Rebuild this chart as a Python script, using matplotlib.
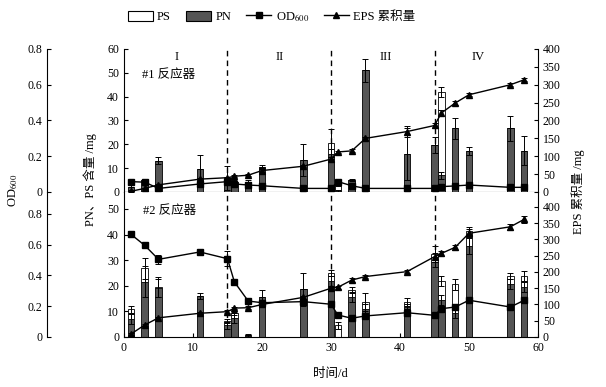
import matplotlib
matplotlib.use('Agg')
import matplotlib.pyplot as plt
from matplotlib.lines import Line2D
from matplotlib.patches import Patch
import numpy as np

plt.rcParams['font.family'] = ['Liberation Serif', 'Noto Sans CJK SC']
plt.rcParams['mathtext.fontset'] = 'stix'
plt.rcParams['font.size'] = 8.5

# sampling days (same for both reactors)
days = [1, 3, 5, 11, 15, 16, 18, 20, 26, 30, 31, 33, 35, 41, 45, 46, 48, 50, 56, 58]
phase_days = [15, 30, 45]
phase_names = ['I', 'II', 'III', 'IV']
phase_pos = [7.6, 22.6, 38, 51.3]

# reactor #1
pn1 = [2, 5, 13.2, 9.5, 6, 4, 4, 10.6, 13.4, 16, 0.5, 5, 51, 16, 19.7, 7, 26.7, 17.2, 26.7, 17.4]
pn1_err = [1, 0.5, 1.3, 6, 5, 1, 1, 0.7, 6.6, 2, 0.3, 0.5, 5, 11, 3.3, 1.5, 4.3, 1.6, 5.3, 6]
ps1 = [0, 0, 0, 0, 0, 0, 0, 0, 0, 4.5, 3, 0, 0, 0, 0, 35, 0, 0, 0, 0]
ps1_err = [0, 0, 0, 0, 0, 0, 0, 0, 0, 6, 1, 0, 0, 0, 0, 2, 0, 0, 0, 0]
od1 = [0.058, 0.055, 0.02, 0.045, 0.058, 0.045, 0.039, 0.035, 0.02, 0.02,
       0.058, 0.035, 0.02, 0.02, 0.02, 0.03, 0.034, 0.039, 0.026, 0.026]
od1_err = [0.01] * 20
eps1 = [2, 10, 20, 36, 40, 44, 47, 60, 72, 92, 112, 115, 150, 169, 186, 221, 249, 272, 300, 314]
eps1_err = [1, 1, 2, 2, 3, 3, 3, 3, 3, 5, 4, 4, 4, 16, 6, 8, 6, 4, 4, 4]

# reactor #2
pn2 = [7, 21.6, 19, 16, 4.5, 7.3, 0.3, 15.5, 18.6, 22, 0, 15.7, 11, 11.8, 29.3, 14.5, 9.5, 35.5, 20.8, 19.5]
pn2_err = [2, 6, 3.5, 1.3, 1.5, 2, 0.3, 2.9, 6.5, 2, 0, 2, 2, 1, 2, 2, 2, 3, 2, 2]
ps2 = [3.8, 5.2, 0.7, 0, 1.7, 1.9, 0.3, 0, 0, 3, 4.5, 2.7, 2.8, 2, 3, 7.4, 11, 6, 3, 4.3]
ps2_err = [1.3, 4.2, 3.9, 0, 0.7, 0.7, 0.5, 0, 0, 1, 1.3, 1.2, 3.5, 1.6, 3.2, 2.1, 2.3, 1.6, 1.1, 2.1]
od2 = [0.668, 0.596, 0.505, 0.553, 0.509, 0.358, 0.234, 0.223, 0.23, 0.213,
       0.143, 0.122, 0.137, 0.158, 0.141, 0.184, 0.195, 0.239, 0.195, 0.239]
od2_err = [0.02, 0.01, 0.03, 0.02, 0.05, 0.01, 0.02, 0.02, 0.02, 0.02,
           0.01, 0.01, 0.02, 0.01, 0.01, 0.02, 0.02, 0.02, 0.02, 0.02]
eps2 = [9, 37, 59, 73, 78, 89, 90, 100, 122, 150, 153, 175, 186, 201, 247, 257, 276, 319, 339, 362]
eps2_err = [2, 3, 4, 3, 4, 4, 4, 4, 5, 5, 5, 5, 5, 5, 10, 8, 8, 12, 10, 10]

pn_color = '#555555'


def draw_panel(ax, pn, pn_err, ps, ps_err, od, od_err, eps, eps_err,
               pn_lim, pn_ticks, od_lim, eps_lim):
    for d in phase_days:
        ax.axvline(d, color='black', ls=(0, (4, 3)), lw=1, zorder=1)
    pn = np.array(pn)
    ps = np.array(ps)
    ax.bar(days, pn, width=0.95, color=pn_color, edgecolor='black', lw=0.6, zorder=2)
    ax.bar(days, ps, bottom=pn, width=0.95, color='white', edgecolor='black', lw=0.6, zorder=2)
    ax.errorbar(days, pn, yerr=pn_err, fmt='none', ecolor='black', elinewidth=0.7,
                capsize=2.5, capthick=0.7, zorder=3)
    m = ps > 0
    ax.errorbar(np.array(days)[m], (pn + ps)[m], yerr=np.array(ps_err)[m], fmt='none',
                ecolor='black', elinewidth=0.7, capsize=2.5, capthick=0.7, zorder=3)
    ax.set_xlim(0, 60)
    ax.set_ylim(*pn_lim)
    ax.set_yticks(pn_ticks)
    ax.tick_params(axis='y', direction='in', length=3, labelsize=8.5)
    ax.spines['top'].set_visible(False)
    ax.spines['right'].set_visible(False)

    # OD600 on a detached axis at the far left
    ax_od = ax.twinx()
    ax_od.yaxis.tick_left()
    ax_od.spines['left'].set_visible(True)
    ax_od.spines['left'].set_position(('axes', -0.186))
    for s in ['right', 'top', 'bottom']:
        ax_od.spines[s].set_visible(False)
    ax_od.errorbar(days, od, yerr=od_err, color='black', lw=1, marker='s', ms=4.5,
                   elinewidth=0.7, capsize=2, capthick=0.7, zorder=4)
    ax_od.set_ylim(*od_lim)
    ax_od.set_yticks([0, 0.2, 0.4, 0.6, 0.8])
    ax_od.set_yticklabels(['0', '0.2', '0.4', '0.6', '0.8'])
    ax_od.tick_params(axis='y', direction='in', length=3, labelsize=8.5)

    # cumulative EPS on the right
    ax_eps = ax.twinx()
    for s in ['left', 'top', 'bottom']:
        ax_eps.spines[s].set_visible(False)
    ax_eps.errorbar(days, eps, yerr=eps_err, color='black', lw=1, marker='^', ms=5,
                    elinewidth=0.7, capsize=2, capthick=0.7, zorder=4)
    ax_eps.set_ylim(*eps_lim)
    ax_eps.set_yticks(range(0, 401, 50))
    ax_eps.tick_params(axis='y', direction='in', length=3, labelsize=8.5)
    return ax_od, ax_eps


fig = plt.figure(figsize=(6.06, 3.87), dpi=100)
ax1 = fig.add_axes([0.2046, 0.5039, 0.6832, 0.3695])
ax2 = fig.add_axes([0.2046, 0.1292, 0.6832, 0.3747])

draw_panel(ax1, pn1, pn1_err, ps1, ps1_err, od1, od1_err, eps1, eps1_err,
           (0, 60), range(0, 61, 10), (0, 0.8), (0, 400))
draw_panel(ax2, pn2, pn2_err, ps2, ps2_err, od2, od2_err, eps2, eps2_err,
           (0, 56.6), range(0, 51, 10), (0, 0.943), (0, 446))

ax1.tick_params(axis='x', length=0, labelbottom=False)
ax2.spines['top'].set_visible(False)
ax2.set_xticks(range(0, 61, 10))
ax2.tick_params(axis='x', direction='in', length=3, labelsize=8.5)

for name, x in zip(phase_names, phase_pos):
    ax1.text(x, 56.7, name, ha='center', va='center', fontsize=9)
ax1.text(2.6, 49.2, '#1 反应器', ha='left', va='center', fontsize=9)
ax2.text(2.8, 49.3, '#2 反应器', ha='left', va='center', fontsize=9)

fig.text(13 / 606, 1 - 190 / 387, r'OD$_{600}$', rotation=90, ha='center', va='center', fontsize=9)
fig.text(90 / 606, 1 - 180 / 387, 'PN、PS 含量 /mg', rotation=90, ha='center', va='center', fontsize=9)
fig.text(578 / 606, 1 - 192 / 387, 'EPS 累积量 /mg', rotation=90, ha='center', va='center', fontsize=9)
fig.text(330 / 606, 1 - 374 / 387, '时间/d', ha='center', va='center', fontsize=9)

handles = [Patch(facecolor='white', edgecolor='black', lw=0.8),
           Patch(facecolor=pn_color, edgecolor='black', lw=0.8),
           Line2D([], [], color='black', lw=1, marker='s', ms=4.5),
           Line2D([], [], color='black', lw=1, marker='^', ms=5)]
labels = ['PS', 'PN', r'OD$_{600}$', 'EPS 累积量']
fig.legend(handles, labels, loc='center', bbox_to_anchor=(0.448, 0.956), ncol=4,
           frameon=False, handlelength=2.0, handleheight=0.9, columnspacing=1.2,
           handletextpad=0.35, fontsize=9)

fig.savefig('out.png', dpi=100)
